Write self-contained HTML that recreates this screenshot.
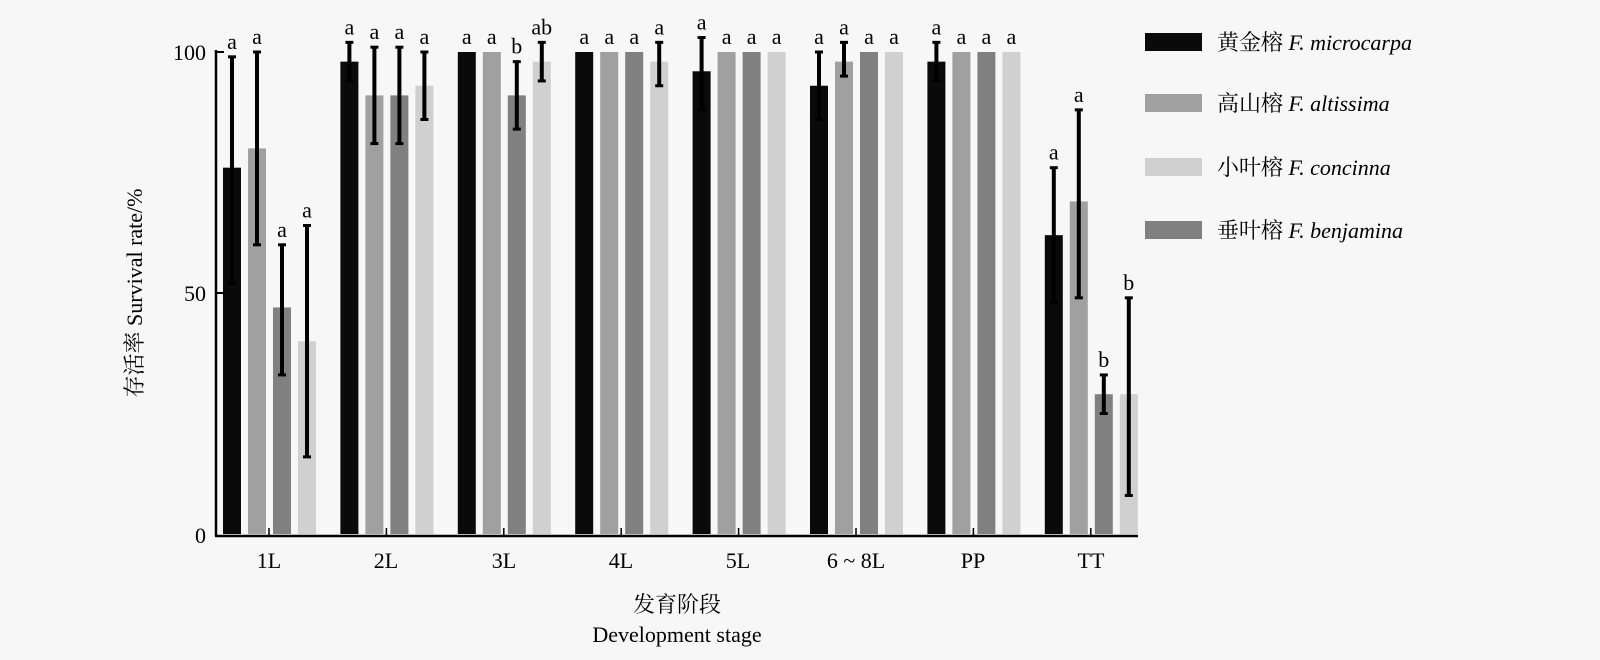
<!DOCTYPE html>
<html><head><meta charset="utf-8"><style>
html,body{margin:0;padding:0;background:#f7f7f7;}
svg{display:block;font-family:"Liberation Serif","Noto Serif CJK SC",serif;}
</style></head><body>
<svg width="1600" height="660" viewBox="0 0 1600 660" xmlns="http://www.w3.org/2000/svg">
<rect width="1600" height="660" fill="#f7f7f7"/>
<g id="bars"></g>
<line x1="216" y1="50" x2="216" y2="536" stroke="#000" stroke-width="2.5"/>
<line x1="215" y1="536" x2="1138" y2="536" stroke="#000" stroke-width="2.5"/>
<line x1="216" y1="52" x2="224" y2="52" stroke="#000" stroke-width="2"/>
<line x1="216" y1="293" x2="224" y2="293" stroke="#000" stroke-width="2"/>
<g font-size="22" text-anchor="end">
<text x="206" y="60">100</text><text x="206" y="301">50</text><text x="206" y="543">0</text>
</g>
<g font-size="22" text-anchor="middle">
<text x="269" y="568">1L</text><text x="386" y="568">2L</text><text x="504" y="568">3L</text>
<text x="621" y="568">4L</text><text x="738" y="568">5L</text><text x="856" y="568">6 ~ 8L</text>
<text x="973" y="568">PP</text><text x="1091" y="568">TT</text>
<text x="677" y="612">发育阶段</text>
<text x="677" y="642">Development stage</text>
</g>
<text transform="translate(142,293) rotate(-90)" font-size="22" text-anchor="middle">存活率 Survival rate/%</text>
<g font-size="22">
<rect x="1145" y="33" width="57" height="18" fill="#0a0a0a"/>
<text x="1217" y="50">黄金榕 <tspan font-style="italic">F. microcarpa</tspan></text>
<rect x="1145" y="94" width="57" height="18" fill="#a0a0a0"/>
<text x="1217" y="111">高山榕 <tspan font-style="italic">F. altissima</tspan></text>
<rect x="1145" y="158" width="57" height="18" fill="#d0d0d0"/>
<text x="1217" y="175">小叶榕 <tspan font-style="italic">F. concinna</tspan></text>
<rect x="1145" y="221" width="57" height="18" fill="#808080"/>
<text x="1217" y="238">垂叶榕 <tspan font-style="italic">F. benjamina</tspan></text>
</g>
</svg>
<script>
const data=[
[[76,52,99,'a'],[80,60,100,'a'],[47,33,60,'a'],[40,16,64,'a']],
[[98,94,102,'a'],[91,81,101,'a'],[91,81,101,'a'],[93,86,100,'a']],
[[100,null,null,'a'],[100,null,null,'a'],[91,84,98,'b'],[98,94,102,'ab']],
[[100,null,null,'a'],[100,null,null,'a'],[100,null,null,'a'],[98,93,102,'a']],
[[96,88,103,'a'],[100,null,null,'a'],[100,null,null,'a'],[100,null,null,'a']],
[[93,86,100,'a'],[98,95,102,'a'],[100,null,null,'a'],[100,null,null,'a']],
[[98,94,102,'a'],[100,null,null,'a'],[100,null,null,'a'],[100,null,null,'a']],
[[62,48,76,'a'],[69,49,88,'a'],[29,25,33,'b'],[29,8,49,'b']]];
const cols=['#0a0a0a','#a0a0a0','#808080','#d0d0d0'];
const Y=v=>534-v*4.82;
let s='';
data.forEach((g,gi)=>{const t=269+gi*117.4;g.forEach((b,bi)=>{
const x=t-46+bi*25,cx=x+9;
s+=`<rect x="${x}" y="${Y(b[0])}" width="18" height="${534-Y(b[0])}" fill="${cols[bi]}"/>`;
let top=Y(b[0]);
if(b[1]!==null){s+=`<line x1="${cx}" y1="${Y(b[2])}" x2="${cx}" y2="${Y(b[1])}" stroke="#000" stroke-width="4"/><line x1="${cx-4}" y1="${Y(b[2])}" x2="${cx+4}" y2="${Y(b[2])}" stroke="#000" stroke-width="3"/><line x1="${cx-4}" y1="${Y(b[1])}" x2="${cx+4}" y2="${Y(b[1])}" stroke="#000" stroke-width="3"/>`;top=Y(b[2]);}
s+=`<text x="${cx}" y="${top-8}" font-size="22" text-anchor="middle">${b[3]}</text>`;
});s+=`<line x1="${t}" y1="528" x2="${t}" y2="536" stroke="#000" stroke-width="1.5"/>`;});
document.getElementById('bars').innerHTML=s;
</script>
</body></html>
